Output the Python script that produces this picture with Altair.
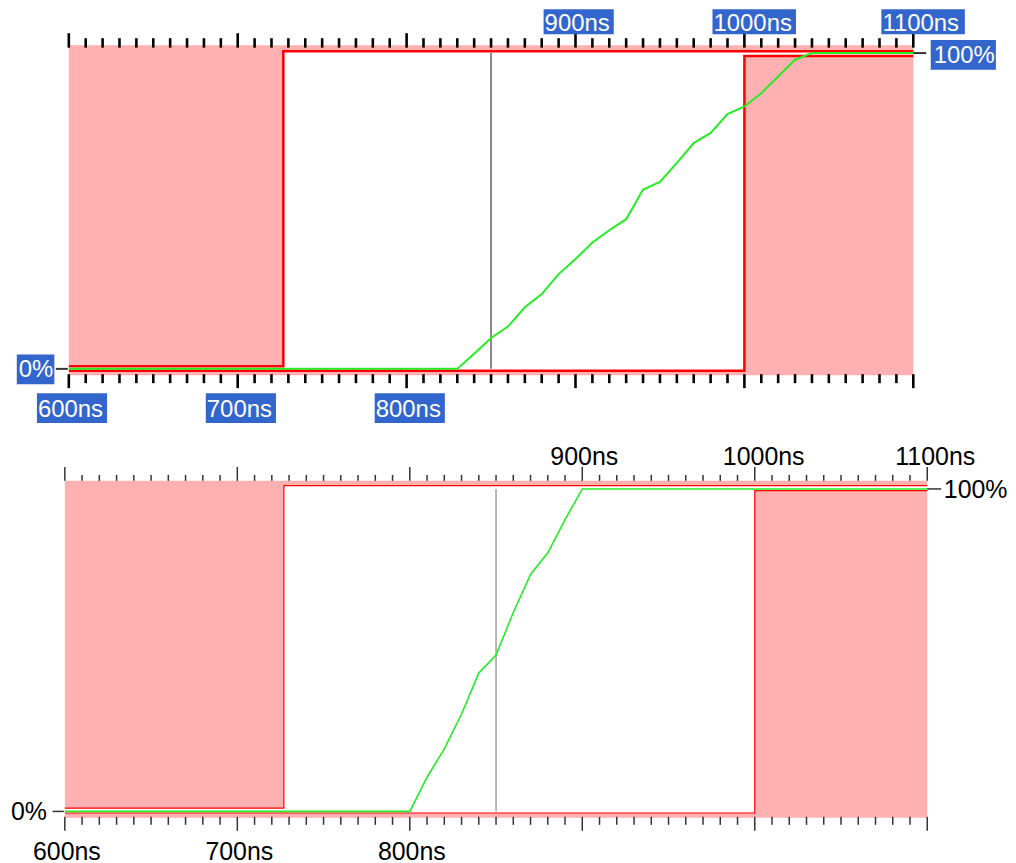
import altair as alt
import pandas as pd

# ---------------- data ----------------
X_DOMAIN = [600, 1100]
Y_DOMAIN = [-2, 102.5]

major_ticks = [600, 700, 800, 900, 1000, 1100]
minor_ticks = [t for t in range(610, 1100, 10) if t % 100 != 0]

bottom_label_t = [600, 700, 800]
bottom_labels = ["600ns", "700ns", "800ns"]
top_label_t = [900, 1000, 1100]
top_labels = ["900ns", "1000ns", "1100ns"]

marker_t = [850]

# panel A (top, bold style)
a_time = [600, 830, 840, 850, 860, 870, 880, 890, 900, 910, 920, 930, 940, 950,
          960, 970, 980, 990, 1000, 1010, 1020, 1030, 1040, 1100]
a_value = [0, 0, 4.8, 9.8, 13.4, 19.5, 23.7, 30.0, 34.8, 40.0, 43.9, 47.4, 56.8, 59.2,
           65.2, 71.5, 74.7, 80.7, 83.1, 87.3, 92.6, 97.9, 100, 100]
a_mask_t = [600, 727, 1000, 1100]
a_upper = [0.8, 100.6, 100.6, 100.6]
a_lower = [-0.6, -0.6, 99.1, 99.1]

# panel B (bottom, thin style)
b_time = [600, 800, 810, 820, 830, 840, 850, 860, 870, 880, 890, 900, 1100]
b_value = [0, 0, 10.6, 19.4, 30.2, 42.9, 48.5, 61.7, 73.5, 80.2, 90.5, 100, 100]
b_mask_t = [600, 727, 1000, 1100]
b_upper = [1.0, 101.0, 101.0, 101.0]
b_lower = [-0.5, -0.5, 99.5, 99.5]

PINK = "#ffb0b0"
RED = "#ff0000"
GREEN = "#22ee22"
BLUE = "#3366cc"
FONT = "Liberation Sans"

ADV = {c: 0.556 for c in "0123456789n"}
ADV.update({"s": 0.5, "%": 0.889})


def text_w(s, fs):
    return sum(ADV.get(c, 0.556) for c in s) * fs


def panel(W, H, xr, gt, gv, mt, up, lo, st):
    xs = alt.Scale(domain=X_DOMAIN, range=xr, nice=False, zero=False)
    ys = alt.Scale(domain=Y_DOMAIN, nice=False, zero=False)
    X = alt.X("t:Q", scale=xs, axis=None)
    left, right = xr

    layers = []
    # pink background = plot area
    bg = pd.DataFrame({"t": [X_DOMAIN[0]], "t2": [X_DOMAIN[1]],
                       "y": [Y_DOMAIN[0]], "y2": [Y_DOMAIN[1]]})
    layers.append(alt.Chart(bg).mark_rect(color=PINK).encode(
        x=X, x2="t2:Q", y=alt.Y("y:Q", scale=ys, axis=None), y2="y2:Q"))

    mask = pd.DataFrame({"t": mt, "upper": up, "lower": lo})
    layers.append(alt.Chart(mask).mark_area(interpolate="step-after", color="white",
                                            opacity=1).encode(
        x=X, y=alt.Y("lower:Q", scale=ys, axis=None), y2="upper:Q"))
    for fld in ["upper", "lower"]:
        layers.append(alt.Chart(mask).mark_line(interpolate="step-after", color=RED,
                                                strokeWidth=st["red_w"]).encode(
            x=X, y=alt.Y(f"{fld}:Q", scale=ys, axis=None)))

    mk = pd.DataFrame({"t": marker_t, "y0": [0], "y1": [100]})
    layers.append(alt.Chart(mk).mark_rule(color="#888888", strokeWidth=st["gray_w"]).encode(
        x=X, y=alt.Y("y0:Q", scale=ys, axis=None), y2="y1:Q"))

    g = pd.DataFrame({"t": gt, "v": gv})
    layers.append(alt.Chart(g).mark_line(color=GREEN, strokeWidth=st["green_w"]).encode(
        x=X, y=alt.Y("v:Q", scale=ys, axis=None)))

    # ticks
    tmaj = pd.DataFrame({"t": major_ticks})
    tmin = pd.DataFrame({"t": minor_ticks})
    tk = dict(color=st["tick_c"], strokeWidth=st["tick_w"])
    layers += [
        alt.Chart(tmaj).mark_rule(**tk).encode(x=X, y=alt.value(st["top_major"][0]), y2=alt.value(st["top_major"][1])),
        alt.Chart(tmin).mark_rule(**tk).encode(x=X, y=alt.value(st["top_minor"][0]), y2=alt.value(st["top_minor"][1])),
        alt.Chart(tmaj).mark_rule(**tk).encode(x=X, y=alt.value(H + st["bot_major"][0]), y2=alt.value(H + st["bot_major"][1])),
        alt.Chart(tmin).mark_rule(**tk).encode(x=X, y=alt.value(H + st["bot_minor"][0]), y2=alt.value(H + st["bot_minor"][1])),
    ]
    # y ticks 0% left, 100% right
    yt0 = pd.DataFrame({"v": [0], "label": ["0%"]})
    yt1 = pd.DataFrame({"v": [100], "label": ["100%"]})
    layers.append(alt.Chart(yt0).mark_rule(color="#333333", strokeWidth=st["ytick_w"]).encode(
        x=alt.value(left + st["ytick_l"][0]), x2=alt.value(left + st["ytick_l"][1]),
        y=alt.Y("v:Q", scale=ys, axis=None)))
    layers.append(alt.Chart(yt1).mark_rule(color="#333333", strokeWidth=st["ytick_w"]).encode(
        x=alt.value(right + st["ytick_r"][0]), x2=alt.value(right + st["ytick_r"][1]),
        y=alt.Y("v:Q", scale=ys, axis=None)))

    fs = st["fs"]
    tcol = "white" if st["boxed"] else "black"
    xlab_dx = st["xlab_dx"]
    lab_sets = [(bottom_label_t, bottom_labels, H + st["bot_base"], H + st["bot_box"], st["bot_box_h"]),
                (top_label_t, top_labels, st["top_base"], st["top_box"], st["top_box_h"])]
    for ts, labs, base, boxc, boxh in lab_sets:
        df = pd.DataFrame({"t": ts, "label": labs})
        if st["boxed"]:
            for i, lab in enumerate(labs):
                w = text_w(lab, fs) + 5
                layers.append(alt.Chart(df.iloc[[i]]).mark_rect(
                    color=BLUE, width=w, height=boxh, xOffset=xlab_dx - 1 + w / 2).encode(
                    x=X, y=alt.value(boxc)))
        layers.append(alt.Chart(df).mark_text(
            align="left", baseline="alphabetic", dx=xlab_dx, font=FONT, fontSize=fs,
            color=tcol).encode(x=X, y=alt.value(base), text="label:N"))

    # y labels
    if st["boxed"]:
        w0 = text_w("0%", fs) + 3
        layers.append(alt.Chart(yt0).mark_rect(color=BLUE, width=w0, height=30,
                                               yOffset=st["y0_box_dy"]).encode(
            x=alt.value(left + st["y0_right"] + 1 - w0 / 2), y=alt.Y("v:Q", scale=ys, axis=None)))
        w1 = text_w("100%", fs) + 4
        layers.append(alt.Chart(yt1).mark_rect(color=BLUE, width=w1, height=30,
                                               yOffset=st["y1_box_dy"]).encode(
            x=alt.value(right + st["y1_left"] - 3 + w1 / 2), y=alt.Y("v:Q", scale=ys, axis=None)))
    layers.append(alt.Chart(yt0).mark_text(align="right", baseline="alphabetic", dy=st["y0_dy"],
                                           font=FONT, fontSize=fs, color=tcol).encode(
        x=alt.value(left + st["y0_right"]), y=alt.Y("v:Q", scale=ys, axis=None), text="label:N"))
    layers.append(alt.Chart(yt1).mark_text(align="left", baseline="alphabetic", dy=st["y1_dy"],
                                           font=FONT, fontSize=fs, color=tcol).encode(
        x=alt.value(right + st["y1_left"]), y=alt.Y("v:Q", scale=ys, axis=None), text="label:N"))

    return alt.layer(*layers).properties(width=W, height=H)


style_a = dict(red_w=2.5, gray_w=2, green_w=2, tick_c="#000000", tick_w=2.6,
               top_major=(-12, 2.5), top_minor=(-7, 2.5), bot_major=(-1, 13), bot_minor=(-1, 8),
               ytick_w=2, ytick_l=(-13, -1), ytick_r=(0, 13),
               fs=24, boxed=True, xlab_dx=-31,
               bot_base=41.6, bot_box=33, bot_box_h=30,
               top_base=-14.7, top_box=-23.5, top_box_h=25,
               y0_right=-15.5, y0_dy=8.5, y0_box_dy=0.5,
               y1_left=20.5, y1_dy=10, y1_box_dy=1.8)

style_b = dict(red_w=1.2, gray_w=1.2, green_w=1.6, tick_c="#333333", tick_w=1.5,
               top_major=(-14, 0), top_minor=(-6, 0), bot_major=(-1, 13), bot_minor=(-1, 7),
               ytick_w=1.5, ytick_l=(-12.3, -1), ytick_r=(0, 14),
               fs=25, boxed=False, xlab_dx=-32,
               bot_base=42.3, bot_box=0, bot_box_h=0,
               top_base=-16, top_box=0, top_box_h=0,
               y0_right=-18, y0_dy=9, y0_box_dy=0,
               y1_left=16.6, y1_dy=9, y1_box_dy=0)

pa = panel(851, 331, [4, 851], a_time, a_value, a_mask_t, a_upper, a_lower, style_a)
pb = panel(865, 338, [0, 865], b_time, b_value, b_mask_t, b_upper, b_lower, style_b)

chart = alt.vconcat(pa, pb, spacing=22).properties(
    padding={"left": 2, "top": 0, "right": 0, "bottom": 0}
).configure_view(strokeWidth=0)

chart.save("out.html", embed_options={"renderer": "svg", "actions": False})
